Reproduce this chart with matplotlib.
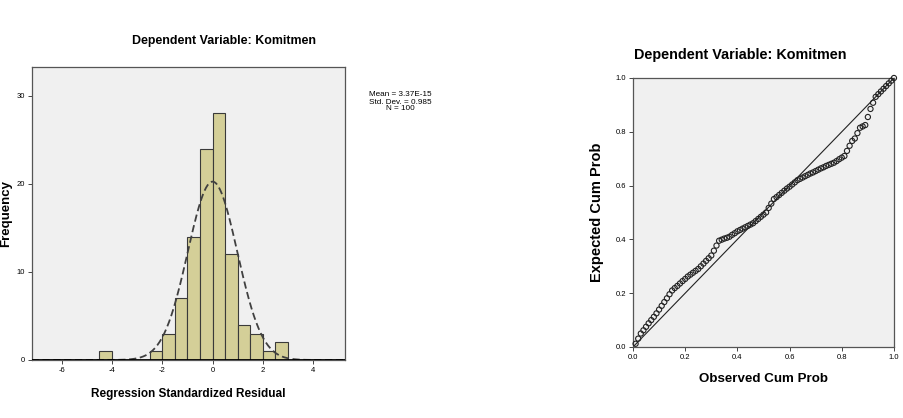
import numpy as np
import matplotlib
matplotlib.use("Agg")
import matplotlib.pyplot as plt

plt.rcParams['font.family'] = ['Liberation Sans', 'DejaVu Sans']

# ---- Histogram data ----
bin_left = [-4.5, -2.5, -2.0, -1.5, -1.0, -0.5, 0.0, 0.5, 1.0, 1.5, 2.0, 2.5]
counts = [1, 1, 3, 7, 14, 24, 28, 12, 4, 3, 1, 2]
bin_width = 0.5
res_mean = 3.37e-15
res_std = 0.985
n_obs = 100
hist_xticks = [-6, -4, -2, 0, 2, 4]
hist_yticks = [0, 10, 20, 30]

# ---- P-P plot data ----
observed_cum = [0.01, 0.02, 0.03, 0.04, 0.05, 0.06, 0.07, 0.08, 0.09, 0.10,
                0.11, 0.12, 0.13, 0.14, 0.15, 0.16, 0.17, 0.18, 0.19, 0.20,
                0.21, 0.22, 0.23, 0.24, 0.25, 0.26, 0.27, 0.28, 0.29, 0.30,
                0.31, 0.32, 0.33, 0.34, 0.35, 0.36, 0.37, 0.38, 0.39, 0.40,
                0.41, 0.42, 0.43, 0.44, 0.45, 0.46, 0.47, 0.48, 0.49, 0.50,
                0.51, 0.52, 0.53, 0.54, 0.55, 0.56, 0.57, 0.58, 0.59, 0.60,
                0.61, 0.62, 0.63, 0.64, 0.65, 0.66, 0.67, 0.68, 0.69, 0.70,
                0.71, 0.72, 0.73, 0.74, 0.75, 0.76, 0.77, 0.78, 0.79, 0.80,
                0.81, 0.82, 0.83, 0.84, 0.85, 0.86, 0.87, 0.88, 0.89, 0.90,
                0.91, 0.92, 0.93, 0.94, 0.95, 0.96, 0.97, 0.98, 0.99, 1.00]
expected_cum = [0.012, 0.031, 0.050, 0.062, 0.075, 0.088, 0.100, 0.112, 0.125, 0.139,
                0.153, 0.167, 0.181, 0.196, 0.210, 0.219, 0.227, 0.236, 0.245, 0.253,
                0.262, 0.269, 0.276, 0.283, 0.290, 0.300, 0.310, 0.320, 0.330, 0.340,
                0.358, 0.377, 0.395, 0.399, 0.403, 0.406, 0.410, 0.417, 0.423, 0.430,
                0.435, 0.440, 0.445, 0.450, 0.455, 0.460, 0.468, 0.476, 0.484, 0.492,
                0.500, 0.517, 0.533, 0.550, 0.557, 0.565, 0.573, 0.581, 0.589, 0.596,
                0.604, 0.612, 0.620, 0.625, 0.630, 0.635, 0.640, 0.645, 0.649, 0.654,
                0.659, 0.664, 0.668, 0.673, 0.677, 0.681, 0.685, 0.691, 0.698, 0.704,
                0.710, 0.729, 0.748, 0.766, 0.775, 0.795, 0.815, 0.820, 0.825, 0.855,
                0.885, 0.908, 0.930, 0.940, 0.950, 0.960, 0.970, 0.980, 0.990, 1.000]
pp_ticks = [0.0, 0.2, 0.4, 0.6, 0.8, 1.0]

title_text = "Dependent Variable: Komitmen"

bg = '#f0f0f0'
bar_color = '#d4cf98'

fig = plt.figure(figsize=(9.04, 4.18), dpi=100)

# ---------------- Histogram ----------------
ax1 = fig.add_axes([0.035, 0.1388, 0.3466, 0.7016])
ax1.set_facecolor(bg)
ax1.bar(bin_left, counts, width=bin_width, align='edge', color=bar_color,
        edgecolor='#3a3a3a', linewidth=0.8, zorder=2)
xs = np.linspace(-7.2, 5.27, 400)
pdf = n_obs * bin_width / (res_std * np.sqrt(2 * np.pi)) * np.exp(-0.5 * ((xs - res_mean) / res_std) ** 2)
ax1.plot(xs, pdf, color='#404040', linestyle=(0, (4, 2)), linewidth=1.3, zorder=3)
ax1.axhline(0, color='black', linewidth=2.0, zorder=4)
ax1.set_xlim(-7.2, 5.27)
ax1.set_ylim(0, 33.3)
ax1.set_xticks(hist_xticks)
ax1.set_xticklabels([str(t) for t in hist_xticks])
ax1.set_yticks(hist_yticks)
ax1.set_yticklabels([str(t) for t in hist_yticks])
ax1.tick_params(axis='both', labelsize=5.5, length=3, width=0.7, color='#444444', pad=2)
for s in ax1.spines.values():
    s.set_color('#555555')
    s.set_linewidth(0.9)
ax1.set_xlabel("Regression Standardized Residual", fontsize=8.5, fontweight='bold', labelpad=10)
ax1.set_ylabel("Frequency", fontsize=9.5, fontweight='bold')
ax1.yaxis.set_label_coords(-0.062, 0.5)
fig.text(224 / 904, 1 - 41 / 418, title_text, ha='center', va='center',
         fontsize=8.9, fontweight='bold')
fig.text(400 / 904, 1 - 102 / 418,
         f"Mean = 3.37E-15\nStd. Dev. = {res_std:.3f}\nN = {n_obs}",
         ha='center', va='center', multialignment='center', fontsize=5.9,
         linespacing=1.0)

# ---------------- P-P plot ----------------
ax2 = fig.add_axes([0.7002, 0.1699, 0.2887, 0.6435])
ax2.set_facecolor(bg)
ax2.plot([0, 1], [0, 1], color='#222222', linewidth=0.8, zorder=2)
ax2.scatter(observed_cum, expected_cum, s=14, facecolors='none',
            edgecolors='#222222', linewidths=0.8, zorder=3, clip_on=False)
ax2.set_xlim(0, 1)
ax2.set_ylim(0, 1)
ax2.set_xticks(pp_ticks)
ax2.set_xticklabels([f"{t:.1f}" for t in pp_ticks])
ax2.set_yticks(pp_ticks)
ax2.set_yticklabels([f"{t:.1f}" for t in pp_ticks])
ax2.tick_params(axis='both', labelsize=5.5, length=3, width=0.7, color='#444444', pad=2)
for s in ax2.spines.values():
    s.set_color('#555555')
    s.set_linewidth(0.9)
ax2.set_xlabel("Observed Cum Prob", fontsize=9.6, fontweight='bold', labelpad=9)
ax2.set_ylabel("Expected Cum Prob", fontsize=10.5, fontweight='bold', labelpad=8)
fig.text(740 / 904, 1 - 55 / 418, title_text, ha='center', va='center',
         fontsize=10.4, fontweight='bold')

fig.savefig("out.png", dpi=100)
